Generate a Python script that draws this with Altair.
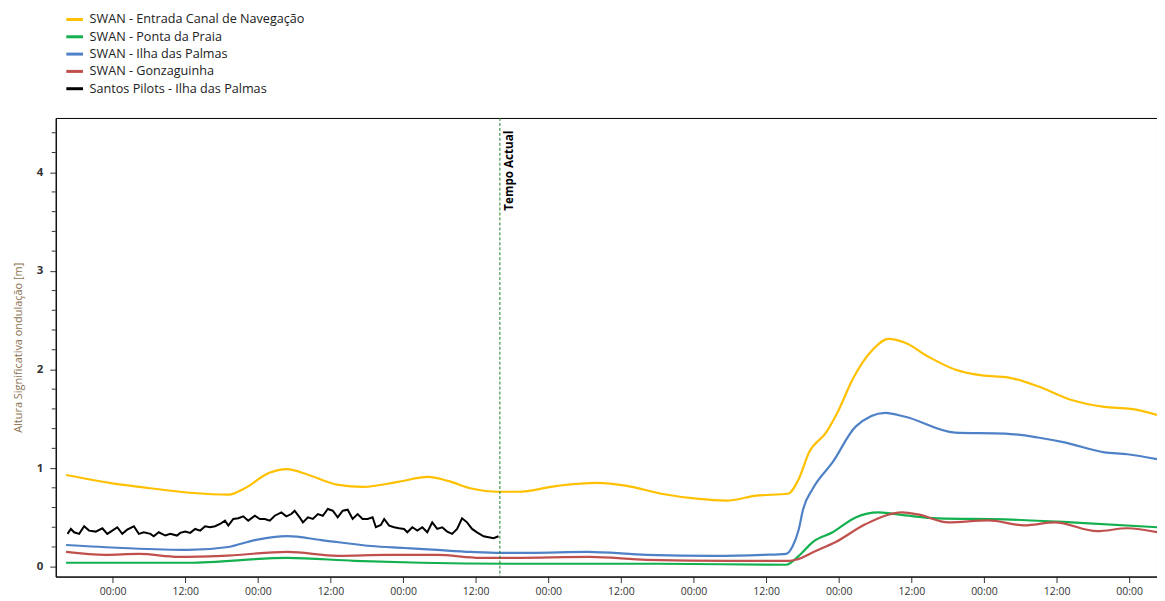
import altair as alt
import pandas as pd

# ---------------- data (hours relative to a reference midnight) ----------------
BASE = pd.Timestamp("2021-06-14 00:00")
X_START_H = -9.4
X_END_H = 172.6
NOW_H = 64.0
X_TICK_HOURS = list(range(0, 169, 12))

series_names = [
    "SWAN - Entrada Canal de Navegação",
    "SWAN - Ponta da Praia",
    "SWAN - Ilha das Palmas",
    "SWAN - Gonzaguinha",
    "Santos Pilots - Ilha das Palmas",
]
series_colors = ["#FFC000", "#13B04F", "#4F81C7", "#C0504D", "#000000"]

entrada_h = [-7.7, -0.5, 4.4, 12.7, 19.2, 21.7, 25.8, 28.8, 32.4, 37.3, 41.4, 47.2, 52.1,
             55.4, 59.5, 63.6, 66.9, 73.5, 80.0, 85.0, 90.7, 96.5, 101.4, 106.4, 111.6,
             113.4, 115.1, 117.9, 120.0, 122.3, 125.6, 128.2, 131.0, 134.8, 139.2, 143.7,
             147.9, 152.9, 158.5, 163.9, 168.3, 172.6]
entrada_v = [0.93, 0.85, 0.81, 0.75, 0.73, 0.79, 0.95, 0.99, 0.93, 0.83, 0.81, 0.86, 0.91,
             0.87, 0.79, 0.76, 0.76, 0.82, 0.85, 0.82, 0.74, 0.69, 0.67, 0.72, 0.74,
             0.89, 1.16, 1.36, 1.59, 1.90, 2.20, 2.31, 2.27, 2.13, 2.00, 1.94,
             1.92, 1.83, 1.69, 1.62, 1.60, 1.54]

ponta_h = [-7.7, 12.5, 28.9, 39.9, 51.0, 66.3, 90.0, 111.3, 113.4, 115.7, 119.0, 122.8,
           126.6, 131.0, 136.4, 147.5, 158.5, 172.6]
ponta_v = [0.04, 0.04, 0.09, 0.06, 0.04, 0.03, 0.03, 0.02, 0.11, 0.25, 0.35, 0.50,
           0.55, 0.52, 0.49, 0.48, 0.45, 0.40]

ilha_h = [-7.7, 1.6, 12.5, 19.1, 23.5, 28.9, 34.5, 42.7, 48.2, 53.6, 59.2, 64.1, 69.0,
          78.4, 88.3, 99.3, 107.5, 111.3, 112.4, 113.4, 114.1, 115.7, 119.0, 122.8,
          127.7, 131.0, 139.2, 147.5, 152.9, 157.3, 163.9, 167.7, 172.6]
ilha_v = [0.22, 0.19, 0.17, 0.20, 0.27, 0.31, 0.27, 0.21, 0.19, 0.17, 0.15, 0.14, 0.14,
          0.15, 0.12, 0.11, 0.12, 0.13, 0.21, 0.38, 0.58, 0.79, 1.06, 1.42,
          1.56, 1.52, 1.36, 1.35, 1.31, 1.26, 1.16, 1.14, 1.09]

gonza_h = [-7.7, -1.2, 4.3, 10.9, 18.1, 28.9, 37.2, 45.4, 53.6, 60.8, 66.3, 78.9, 88.3,
           101.9, 111.8, 112.9, 116.2, 119.5, 124.4, 130.5, 133.1, 138.1, 144.7, 150.7,
           155.7, 162.7, 167.7, 172.6]
gonza_v = [0.15, 0.12, 0.13, 0.10, 0.11, 0.15, 0.11, 0.12, 0.12, 0.09, 0.09, 0.10, 0.07,
           0.06, 0.06, 0.07, 0.16, 0.25, 0.43, 0.55, 0.53, 0.45, 0.47, 0.42,
           0.45, 0.36, 0.39, 0.35]

pilots_h = [-7.45, -6.90, -6.36, -5.53, -4.71, -3.89, -2.79, -1.70, -0.88, -0.05, 0.77,
            1.59, 2.41, 3.51, 4.33, 5.15, 6.25, 6.79, 7.62, 8.71, 9.53, 10.63, 11.18,
            12.00, 12.82, 13.64, 14.47, 15.29, 16.11, 16.93, 17.75, 18.57, 19.12, 19.94,
            20.77, 21.59, 22.41, 23.51, 24.33, 25.15, 25.97, 26.79, 27.89, 28.71, 29.53,
            30.08, 30.90, 31.45, 32.27, 33.10, 33.92, 34.74, 35.56, 36.38, 37.20, 38.03,
            38.85, 39.67, 40.49, 41.31, 42.14, 42.96, 43.51, 44.33, 44.88, 45.70, 46.52,
            47.34, 48.16, 48.71, 49.53, 50.36, 51.18, 52.00, 52.82, 53.64, 54.47, 55.29,
            56.11, 56.93, 57.75, 58.57, 59.40, 60.22, 61.31, 62.14, 62.96, 63.78]
pilots_v = [0.333, 0.383, 0.349, 0.333, 0.410, 0.366, 0.356, 0.390, 0.333, 0.366, 0.400,
            0.333, 0.376, 0.410, 0.333, 0.349, 0.333, 0.309, 0.349, 0.316, 0.333, 0.316,
            0.343, 0.356, 0.343, 0.383, 0.366, 0.410, 0.400, 0.410, 0.433, 0.467, 0.417,
            0.484, 0.491, 0.511, 0.467, 0.517, 0.484, 0.484, 0.467, 0.517, 0.551, 0.511,
            0.534, 0.568, 0.501, 0.450, 0.501, 0.484, 0.534, 0.517, 0.585, 0.568, 0.501,
            0.568, 0.578, 0.484, 0.534, 0.484, 0.484, 0.501, 0.400, 0.423, 0.484, 0.417,
            0.400, 0.390, 0.383, 0.349, 0.400, 0.366, 0.400, 0.349, 0.450, 0.383, 0.400,
            0.356, 0.333, 0.383, 0.491, 0.450, 0.383, 0.349, 0.309, 0.299, 0.289, 0.309]

Y_DOMAIN = [-0.1, 4.55]
y_major_ticks = [0, 1, 2, 3, 4]
y_minor_ticks = [0.2, 0.4, 0.6, 0.8, 1.2, 1.4, 1.6, 1.8, 2.2, 2.4, 2.6, 2.8,
                 3.2, 3.4, 3.6, 3.8, 4.2, 4.4]
now_label = "Tempo Actual"
y_title = "Altura Significativa ondulação [m]"


def stamp(h):
    return (BASE + pd.Timedelta(hours=h)).strftime("%Y-%m-%dT%H:%M:%S")


def dt(h):
    t = BASE + pd.Timedelta(hours=h)
    return alt.DateTime(year=int(t.year), month=int(t.month), date=int(t.day),
                        hours=int(t.hour), minutes=int(t.minute))


swan_rows = []
for name, hs, vs in [
    (series_names[0], entrada_h, entrada_v),
    (series_names[1], ponta_h, ponta_v),
    (series_names[2], ilha_h, ilha_v),
    (series_names[3], gonza_h, gonza_v),
]:
    for h, v in zip(hs, vs):
        swan_rows.append({"t": stamp(h), "v": v, "serie": name})
swan_df = pd.DataFrame(swan_rows)
pilots_df = pd.DataFrame({"t": [stamp(h) for h in pilots_h], "v": pilots_v,
                          "serie": series_names[4]})
now_df = pd.DataFrame({"t": [stamp(NOW_H)], "v": [4.42], "label": [now_label]})
minor_df = pd.DataFrame({"v": y_minor_ticks})

FONT = "Open Sans"

x_scale = alt.Scale(domain=[dt(X_START_H), dt(X_END_H)])
y_scale = alt.Scale(domain=Y_DOMAIN, nice=False, zero=False)

x_axis = alt.Axis(
    title=None, format="%H:%M", values=[dt(h) for h in X_TICK_HOURS],
    grid=False, domainColor="#000000", tickColor="#333333", tickSize=6,
    labelColor="#333333", labelFontSize=10.5, labelPadding=4, labelFont=FONT,
)
y_axis = alt.Axis(
    title=y_title, values=y_major_ticks, format="d", tickSize=6,
    grid=False, domainColor="#000000", tickColor="#333333",
    labelColor="#333333", labelFontSize=11.5, labelFontWeight="bold", labelFont=FONT,
    labelPadding=7,
    titleColor="#8B7352", titleFontSize=11, titleFontWeight="normal", titleFont=FONT,
    titlePadding=13,
)

color = alt.Color(
    "serie:N",
    scale=alt.Scale(domain=series_names, range=series_colors),
    legend=alt.Legend(
        title=None, orient="none", legendX=9, legendY=-109, direction="vertical",
        symbolType="stroke", symbolStrokeWidth=3, symbolSize=280,
        labelFontSize=12.7, labelFont=FONT, labelColor="#222222", labelOffset=5,
        rowPadding=0.4, padding=0, labelLimit=400,
    ),
)

swan = alt.Chart(swan_df).mark_line(interpolate="monotone", strokeWidth=2.2).encode(
    x=alt.X("t:T", scale=x_scale, axis=x_axis),
    y=alt.Y("v:Q", scale=y_scale, axis=y_axis),
    color=color,
)
pilots = alt.Chart(pilots_df).mark_line(strokeWidth=2).encode(
    x="t:T", y="v:Q", color=color,
)
minor = alt.Chart(minor_df).mark_rule(color="#333333", strokeWidth=1).encode(
    y="v:Q", x=alt.value(-4), x2=alt.value(0),
)
rule = alt.Chart(now_df).mark_rule(color="#1A7F25", strokeDash=[3, 2], strokeWidth=1).encode(
    x="t:T",
)
label = alt.Chart(now_df).mark_text(
    angle=270, align="right", baseline="top", dy=4, fontWeight="bold",
    fontSize=11.7, font=FONT, color="#000000",
).encode(x="t:T", y="v:Q", text="label:N")

chart = alt.layer(swan, pilots, minor, rule, label).properties(
    width=1107, height=461,
    autosize=alt.AutoSizeParams(type="none"),
    padding={"left": 48, "top": 109, "right": 0, "bottom": 20},
).configure(font=FONT).configure_view(stroke="#000000", strokeWidth=1)

chart.save("out.html", embed_options={"renderer": "svg", "actions": False})
